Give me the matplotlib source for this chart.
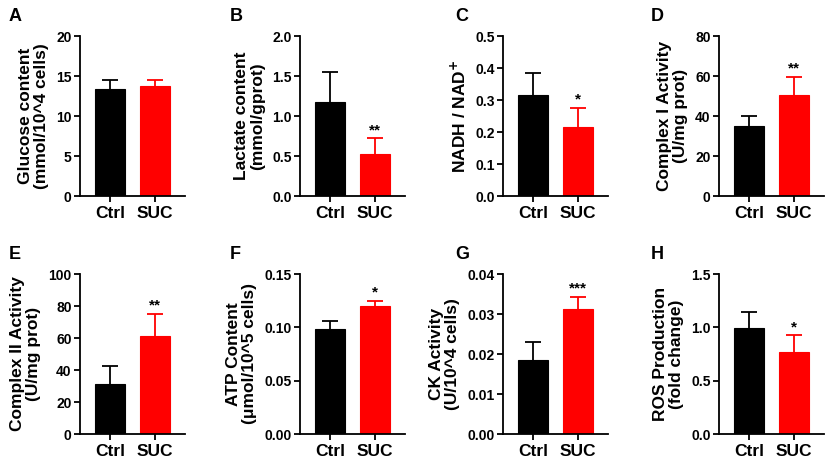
import matplotlib
matplotlib.use("Agg")
import matplotlib.pyplot as plt
import numpy as np

plt.rcParams['font.family'] = ['Liberation Sans', 'DejaVu Sans']
plt.rcParams['font.weight'] = 'bold'

groups = ['Ctrl', 'SUC']
colors = ['#000000', '#FF0000']

glucose_mean = [13.4, 13.7]
glucose_err = [1.12, 0.75]
lactate_mean = [1.18, 0.52]
lactate_err = [0.37, 0.20]
nadh_mean = [0.316, 0.216]
nadh_err = [0.068, 0.058]
complex1_mean = [35.2, 50.3]
complex1_err = [5.0, 9.1]
complex2_mean = [31.4, 61.5]
complex2_err = [11.1, 13.7]
atp_mean = [0.098, 0.120]
atp_err = [0.0082, 0.0051]
ck_mean = [0.0185, 0.0312]
ck_err = [0.0046, 0.0031]
ros_mean = [0.994, 0.772]
ros_err = [0.152, 0.152]

panels = [
    ('A', 'Glucose content\n(mmol/10^4 cells)', glucose_mean, glucose_err, ['', ''], [0, 5, 10, 15, 20], '%d'),
    ('B', 'Lactate content\n(mmol/gprot)', lactate_mean, lactate_err, ['', '**'], [0, 0.5, 1.0, 1.5, 2.0], '%.1f'),
    ('C', 'NADH / NAD$^{\\mathbf{+}}$', nadh_mean, nadh_err, ['', '*'], [0, 0.1, 0.2, 0.3, 0.4, 0.5], '%.1f'),
    ('D', 'Complex I Activity\n(U/mg prot)', complex1_mean, complex1_err, ['', '**'], [0, 20, 40, 60, 80], '%d'),
    ('E', 'Complex II Activity\n(U/mg prot)', complex2_mean, complex2_err, ['', '**'], [0, 20, 40, 60, 80, 100], '%d'),
    ('F', 'ATP Content\n(\u03bcmol/10^5 cells)', atp_mean, atp_err, ['', '*'], [0, 0.05, 0.10, 0.15], '%.2f'),
    ('G', 'CK Activity\n(U/10^4 cells)', ck_mean, ck_err, ['', '***'], [0, 0.01, 0.02, 0.03, 0.04], '%.2f'),
    ('H', 'ROS Production\n(fold change)', ros_mean, ros_err, ['', '*'], [0, 0.5, 1.0, 1.5], '%.1f'),
]

W, H = 829, 463
fig = plt.figure(figsize=(W / 100, H / 100), dpi=100)

col_x = [80, 300, 503, 719]
row_y = [(36, 196), (274, 434)]
letter_x = [9, 230, 455, 651]
letter_y = [8, 246]

for i, (letter, ylabel, mean, err, stars, yticks, fmt) in enumerate(panels):
    r, c = divmod(i, 4)
    x0 = col_x[c]
    top, bot = row_y[r]
    ax = fig.add_axes([x0 / W, 1 - bot / H, 105 / W, (bot - top) / H])
    x = np.arange(len(groups))
    ax.bar(x, mean, width=0.667, color=colors, edgecolor=colors, linewidth=0.8, zorder=2)
    # upper-only error bars with a single cap
    for xi, m, e, col in zip(x, mean, err, colors):
        ax.vlines(xi, m, m + e, color=col, linewidth=1.3, zorder=3)
        ax.hlines(m + e, xi - 0.17, xi + 0.17, color=col, linewidth=1.3, zorder=3)
    for xi, m, e, s in zip(x, mean, err, stars):
        if s:
            ax.annotate(s, (xi, m + e), xytext=(0, 1), textcoords='offset points',
                        ha='center', va='bottom', fontsize=11, fontweight='bold')
    ax.set_xlim(-0.667, 1.667)
    ax.set_ylim(0, yticks[-1])
    ax.set_yticks(yticks)
    ax.set_yticklabels([fmt % t for t in yticks], fontsize=10, fontweight='bold')
    ax.set_xticks(x)
    ax.set_xticklabels(groups, fontsize=12.5, fontweight='bold')
    ax.set_ylabel(ylabel, fontsize=12.5, fontweight='bold', labelpad=5, linespacing=1.1)
    for side in ['top', 'right']:
        ax.spines[side].set_visible(False)
    for side in ['left', 'bottom']:
        ax.spines[side].set_linewidth(1.3)
    ax.tick_params(axis='both', width=1.3, length=4, pad=2)
    ax.tick_params(axis='x', pad=3)
    fig.text(letter_x[c] / W, 1 - letter_y[r] / H, letter, fontsize=13,
             fontweight='bold', va='top', ha='left')

fig.savefig('out.png', dpi=100)
